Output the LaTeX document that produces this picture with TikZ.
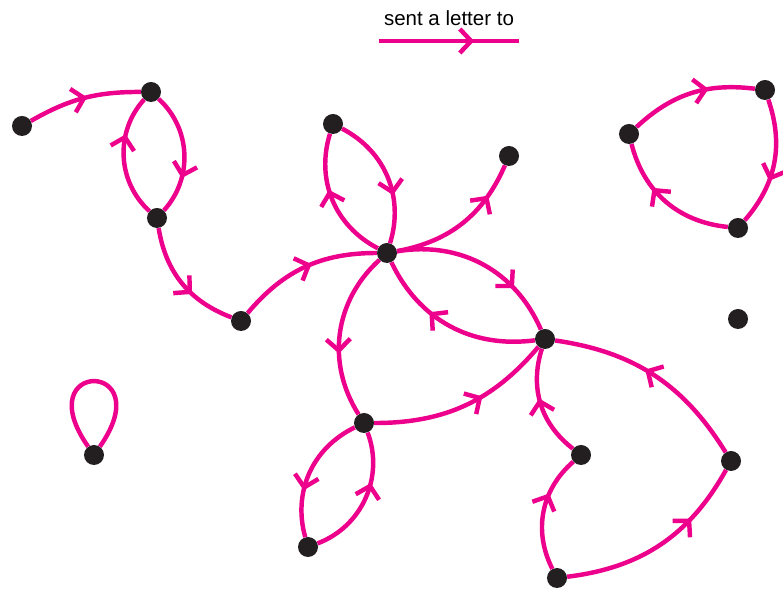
\documentclass[tikz,border=0pt]{standalone}
\usepackage{fontspec}
\setmainfont{Liberation Sans}
\usetikzlibrary{arrows.meta,decorations.markings}
\definecolor{lettermagenta}{RGB}{236,0,140}
\definecolor{dotblack}{RGB}{35,31,32}

\begin{document}
\begin{tikzpicture}[
    x=0.03cm, y=0.03cm,
    person/.style={
        circle,
        fill=dotblack,
        minimum size=0.6cm,
        inner sep=0pt
    },
    letterline/.style={
        draw=lettermagenta,
        color=lettermagenta,
        line width=3.8pt
    },
    letter/.style={
        letterline,
        postaction={decorate},
        decoration={markings,
            mark=at position #1 with {\arrow{Straight Barb[length=3.4mm, width=7.2mm]}}}
    },
    letter/.default=0.55,
    keytext/.style={font=\fontsize{17.5}{21}\selectfont, inner sep=0pt}
]
\useasboundingbox (0,0) rectangle (783,592);

\node[person] (p1) at (22,466) {};
\node[person] (p2) at (151,500) {};
\node[person] (p3) at (157,374) {};
\node[person] (p4) at (241,271) {};
\node[person] (p5) at (333,468) {};
\node[person] (p6) at (509,436) {};
\node[person] (p7) at (387,339) {};
\node[person] (p8) at (545,253) {};
\node[person] (p9) at (629,458) {};
\node[person] (p10) at (765,502) {};
\node[person] (p11) at (738,364) {};
\node[person] (p12) at (738,273) {};
\node[person] (p13) at (94,137) {};
\node[person] (p14) at (364,169) {};
\node[person] (p15) at (308,45) {};
\node[person] (p16) at (581,137) {};
\node[person] (p17) at (731,131) {};
\node[person] (p18) at (557,14) {};

\coordinate (keystart) at (379,551);
\coordinate (keyend) at (519,551);
\node[keytext] (keylabel) at (449,574) {sent a letter to};
\draw[letter=0.68] (keystart) -- (keyend);

\draw[letter=0.53] (p1) to[bend left=15] (p2);
\draw[letter=0.7] (p2) to[bend left=45] (p3);
\draw[letter=0.68] (p3) to[bend left=45] (p2);
\draw[letter=0.62] (p3) to[bend right=30] (p4);
\draw[letter] (p4) to[bend left=25] (p7);
\draw[letter=0.64] (p5) to[bend left=40] (p7);
\draw[letter=0.58] (p7) to[bend left=40] (p5);
\draw[letter=0.76] (p7) to[bend right=28] (p6);
\draw[letter=0.72] (p7) to[bend left=38] (p8);
\draw[letter=0.64] (p8) to[bend left=36] (p7);
\draw[letter=0.62] (p7) to[bend right=40] (p14);
\draw[letter=0.6] (p14) to[bend right=25] (p8);
\draw[letter=0.64] (p14) to[bend right=40] (p15);
\draw[letter=0.62] (p15) to[bend right=45] (p14);
\draw[letter=0.55] (p16) to[bend left=35] (p8);
\draw[letter=0.66] (p18) to[bend left=38] (p16);
\draw[letter=0.7] (p18) to[bend right=27] (p17);
\draw[letter] (p17) to[bend right=25] (p8);
\draw[letter=0.64] (p9) to[bend left=25] (p10);
\draw[letter=0.64] (p10) to[bend left=30] (p11);
\draw[letter=0.64] (p11) to[bend left=35] (p9);
\draw[letterline] (p13) to[out=125, in=55, distance=3.2cm] (p13);
\end{tikzpicture}
\end{document}
